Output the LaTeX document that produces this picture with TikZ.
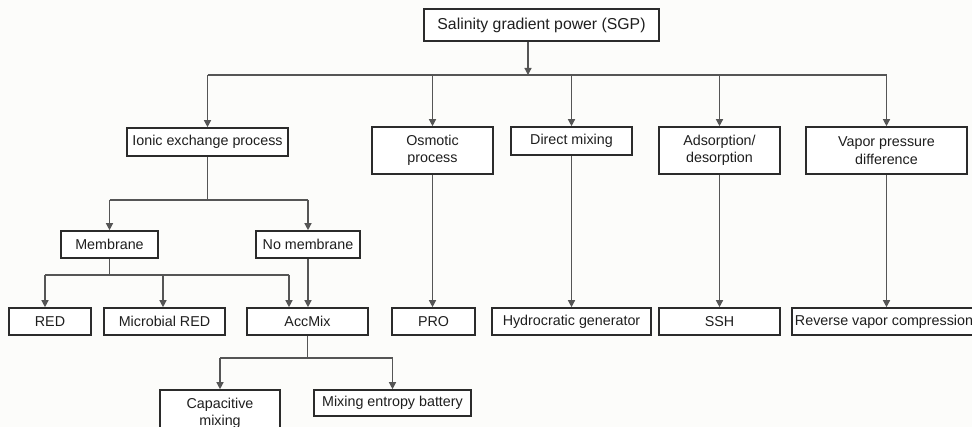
\documentclass[tikz,border=0pt]{standalone}
\usepackage{fontspec}
\setmainfont{Liberation Sans}
\usetikzlibrary{arrows.meta}
\definecolor{linec}{HTML}{555555}
\definecolor{boxc}{HTML}{2B2B2B}
\definecolor{txtc}{HTML}{1E1E1E}
\definecolor{bgc}{HTML}{FCFCFA}
\tikzset{
  box/.style={draw=boxc, line width=1.6pt, fill=white, text=txtc, align=center,
    inner sep=0pt, font=\fontsize{14.3}{17.5}\selectfont},
  conn/.style={draw=linec, line width=1.3pt},
  arr/.style={conn, -{Triangle[length=7pt,width=7pt]}},
}
\begin{document}
\begin{tikzpicture}[x=1pt,y=-1pt]
\fill[bgc] (0,0) rectangle (972,427);
\useasboundingbox (0,0) rectangle (972,427);
% top
\node[box, minimum width=235pt, minimum height=32pt, font=\fontsize{15.8}{18}\selectfont] (sgp) at (541.5,25) {Salinity gradient power (SGP)};
% level 1
\node[box, minimum width=161pt, minimum height=28pt] (ionic) at (207.5,142) {Ionic exchange process};
\node[box, minimum width=121pt, minimum height=47pt] (osm) at (432.5,150.5) {Osmotic\\process};
\node[box, minimum width=121pt, minimum height=28pt] (dir) at (571.5,141) {Direct mixing};
\node[box, minimum width=121pt, minimum height=47pt] (ads) at (719.5,150.5) {Adsorption/\\desorption};
\node[box, minimum width=161pt, minimum height=47pt] (vap) at (886.5,150.5) {Vapor pressure\\difference};
% level 2
\node[box, minimum width=97pt, minimum height=27pt] (mem) at (109.5,244.5) {Membrane};
\node[box, minimum width=104pt, minimum height=27pt] (nomem) at (308,244.5) {No membrane};
% level 3
\node[box, minimum width=82pt, minimum height=27pt] (red) at (50,321.5) {RED};
\node[box, minimum width=121pt, minimum height=27pt] (mred) at (164.5,321.5) {Microbial RED};
\node[box, minimum width=121pt, minimum height=27pt] (acc) at (307.5,321.5) {AccMix};
\node[box, minimum width=83pt, minimum height=27pt] (pro) at (433.5,321.5) {PRO};
\node[box, minimum width=159pt, minimum height=27pt] (hyd) at (571.5,321.5) {Hydrocratic generator};
\node[box, minimum width=121pt, minimum height=27pt] (ssh) at (719.5,321.5) {SSH};
\node[box, minimum width=184pt, minimum height=27pt] (rvc) at (884,321.5) {Reverse vapor compression};
% level 4
\node[box, minimum width=120pt, minimum height=47pt] (cap) at (220,413.5) {Capacitive\\mixing};
\node[box, minimum width=157pt, minimum height=26pt] (meb) at (392.5,403) {Mixing entropy battery};
% coordinates
\coordinate (bus) at (528,75);
\coordinate (j1) at (207.5,200);
\coordinate (j2) at (109.5,275);
\coordinate (j3) at (307.5,358);
\coordinate (accl) at (289,0);
\coordinate (redx) at (45,0);
\coordinate (mredx) at (163,0);
% connectors from top
\draw[arr] (sgp.south -| bus) -- (bus);
\draw[conn] (bus -| ionic) -- (bus -| vap);
\draw[arr] (bus -| ionic) -- (ionic.north);
\draw[arr] (bus -| osm) -- (osm.north);
\draw[arr] (bus -| dir) -- (dir.north);
\draw[arr] (bus -| ads) -- (ads.north);
\draw[arr] (bus -| vap) -- (vap.north);
% ionic branch
\draw[conn] (ionic.south) -- (j1);
\draw[conn] (j1 -| mem) -- (j1 -| nomem);
\draw[arr] (j1 -| mem) -- (mem.north);
\draw[arr] (j1 -| nomem) -- (nomem.north);
% membrane branch
\draw[conn] (mem.south) -- (j2);
\draw[conn] (j2 -| redx) -- (j2 -| accl);
\draw[arr] (j2 -| redx) -- (red.north -| redx);
\draw[arr] (j2 -| mredx) -- (mred.north -| mredx);
\draw[arr] (j2 -| accl) -- (acc.north -| accl);
\draw[arr] (nomem.south) -- (acc.north -| nomem);
% straight columns
\draw[arr] (osm.south) -- (pro.north -| osm);
\draw[arr] (dir.south) -- (hyd.north -| dir);
\draw[arr] (ads.south) -- (ssh.north -| ads);
\draw[arr] (vap.south) -- (rvc.north -| vap);
% accmix branch
\draw[conn] (acc.south) -- (j3);
\draw[conn] (j3 -| cap) -- (j3 -| meb);
\draw[arr] (j3 -| cap) -- (cap.north);
\draw[arr] (j3 -| meb) -- (meb.north);
\end{tikzpicture}
\end{document}
